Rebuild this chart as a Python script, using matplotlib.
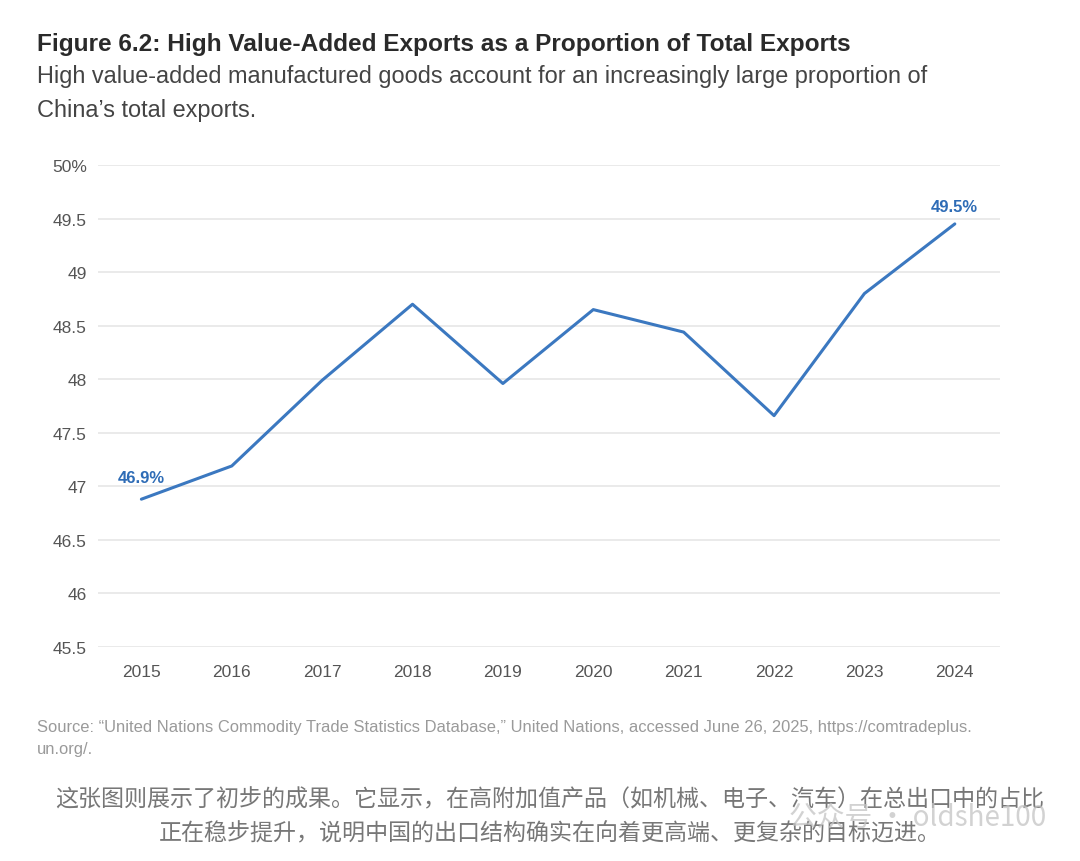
import matplotlib.pyplot as plt

years = [2015, 2016, 2017, 2018, 2019, 2020, 2021, 2022, 2023, 2024]
share = [46.88, 47.19, 47.99, 48.70, 47.96, 48.65, 48.44, 47.66, 48.80, 49.45]
ytick_vals = [45.5, 46, 46.5, 47, 47.5, 48, 48.5, 49, 49.5, 50]
ytick_labels = ['45.5', '46', '46.5', '47', '47.5', '48', '48.5', '49', '49.5', '50%']

plt.rcParams['font.family'] = ['Liberation Sans', 'Noto Sans CJK SC', 'DejaVu Sans']
cjk = ['Noto Sans CJK SC', 'DejaVu Sans']

fig = plt.figure(figsize=(10.8, 8.62), dpi=100)
W, H = 1080, 862

# plot area in pixels: left 98, right 1000, top 166, bottom 648
ax = fig.add_axes([98 / W, 1 - 648 / H, (1000 - 98) / W, (648 - 166) / H])
ax.plot(years, share, color='#3b78c0', lw=2.2, solid_capstyle='round')
ax.set_ylim(45.5, 50)
ax.set_xlim(2014.52, 2024.5)
ax.set_yticks(ytick_vals)
ax.set_yticklabels(ytick_labels)
ax.set_xticks(years)
ax.grid(axis='y', color='#e6e6e6', lw=1.2)
ax.set_axisbelow(True)
for s in ax.spines.values():
    s.set_visible(False)
ax.tick_params(length=0, labelsize=12.5, labelcolor='#555555')
ax.tick_params(axis='y', pad=8)
ax.tick_params(axis='x', pad=12)

# end labels
ax.annotate('46.9%', (years[0], share[0]), xytext=(0, 10), textcoords='offset points',
            ha='center', va='bottom', color='#2e6cb6', fontsize=12, fontweight='bold')
ax.annotate('49.5%', (years[-1], share[-1]), xytext=(0, 7), textcoords='offset points',
            ha='center', va='bottom', color='#2e6cb6', fontsize=12, fontweight='bold')

fig.text(37 / W, 1 - 44 / H, 'Figure 6.2: High Value-Added Exports as a Proportion of Total Exports',
         fontsize=17.6, fontweight='bold', color='#2a2a2a', va='center')
fig.text(37 / W, 1 - 77 / H, 'High value-added manufactured goods account for an increasingly large proportion of',
         fontsize=16.9, color='#444444', va='center')
fig.text(37 / W, 1 - 110 / H, 'China\u2019s total exports.',
         fontsize=16.9, color='#444444', va='center')

fig.text(37 / W, 1 - 728 / H,
         'Source: \u201cUnited Nations Commodity Trade Statistics Database,\u201d United Nations, accessed June 26, 2025, https://comtradeplus.',
         fontsize=11.9, color='#9a9a9a', va='center')
fig.text(37 / W, 1 - 750 / H, 'un.org/.', fontsize=11.9, color='#9a9a9a', va='center')

fig.text(550 / W, 1 - 800 / H, '这张图则展示了初步的成果。它显示，在高附加值产品（如机械、电子、汽车）在总出口中的占比',
         ha='center', va='center', fontsize=16.6, color='#777777', family=cjk)
fig.text(550 / W, 1 - 834 / H, '正在稳步提升，说明中国的出口结构确实在向着更高端、更复杂的目标迈进。',
         ha='center', va='center', fontsize=16.6, color='#777777', family=cjk)
# watermark laid over the caption, as in the source image
fig.text(1046 / W, 1 - 818 / H, '公众号 · oldshe100', ha='right', va='center', fontsize=20,
         color='#c4c4c4', alpha=0.75, family=cjk)

fig.savefig('out.png', dpi=100)
